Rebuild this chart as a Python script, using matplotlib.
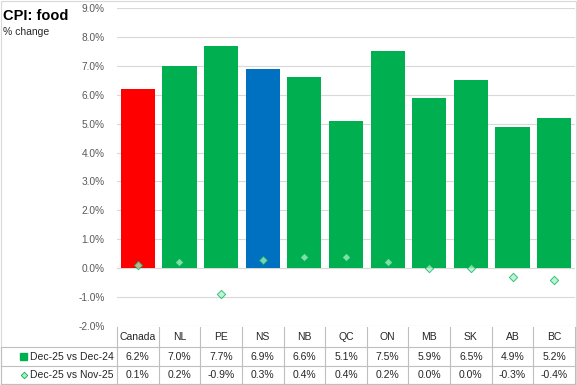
import matplotlib.pyplot as plt
from matplotlib.lines import Line2D
from matplotlib.patches import Rectangle

plt.rcParams['font.family'] = ['Liberation Sans', 'DejaVu Sans']

regions = ["Canada", "NL", "PE", "NS", "NB", "QC", "ON", "MB", "SK", "AB", "BC"]
yoy = [6.2, 7.0, 7.7, 6.9, 6.6, 5.1, 7.5, 5.9, 6.5, 4.9, 5.2]
mom = [0.1, 0.2, -0.9, 0.3, 0.4, 0.4, 0.2, 0.0, 0.0, -0.3, -0.4]
bar_colors = ["#FF0000", "#00B050", "#00B050", "#0070C0", "#00B050", "#00B050",
              "#00B050", "#00B050", "#00B050", "#00B050", "#00B050"]
yticks = [-2, -1, 0, 1, 2, 3, 4, 5, 6, 7, 8, 9]

W, H = 577, 385
fig = plt.figure(figsize=(W / 100, H / 100), dpi=100)

def fx(px):
    return px / W

def fy(py):
    return 1 - py / H

x0, x1, ytop, ybot = 117, 575, 8, 326
ax = fig.add_axes([fx(x0), fy(ybot), fx(x1) - fx(x0), fy(ytop) - fy(ybot)])
x = list(range(len(regions)))
ax.bar(x, yoy, width=0.82, color=bar_colors, zorder=2)
ax.scatter(x, mom, marker="D", s=18, facecolor="#A8F0C8", edgecolor="#00B050",
           linewidth=0.7, alpha=0.75, zorder=3)
ax.set_xlim(-0.5, len(regions) - 0.5)
ax.set_ylim(-2, 9)
ax.set_yticks(yticks)
ax.set_yticklabels(["%.1f%%" % t for t in yticks], fontsize=7.3, color="#595959")
ax.tick_params(axis="y", length=0, pad=9)
ax.set_xticks([])
ax.grid(axis="y", color="#D9D9D9", linewidth=0.8, zorder=0)
ax.axhline(0, color="#D9D9D9", linewidth=0.8, zorder=1)
for s in ax.spines.values():
    s.set_visible(False)

fig.text(fx(3), fy(16), "CPI: food", fontsize=10.5, fontweight="bold", va="center")
fig.text(fx(3), fy(32), "% change", fontsize=7.5, va="center", color="#262626")

# data table
grey = "#BFBFBF"
row_lines = [347, 366, 384]
for ry in row_lines:
    fig.add_artist(Line2D([fx(1), fx(x1)], [fy(ry), fy(ry)], color=grey, lw=0.8))
fig.add_artist(Line2D([fx(1), fx(1)], [fy(347), fy(384)], color=grey, lw=0.8))
col_w = (x1 - x0) / len(regions)
for i in range(len(regions) + 1):
    cx = x0 + i * col_w
    fig.add_artist(Line2D([fx(cx), fx(cx)], [fy(327), fy(384)], color=grey, lw=0.8))
for i, r in enumerate(regions):
    cx = x0 + (i + 0.5) * col_w
    fig.text(fx(cx), fy(337), r, fontsize=7.5, ha="center", va="center", color="#262626")
    fig.text(fx(cx), fy(356.5), "%.1f%%" % yoy[i], fontsize=7.5, ha="center", va="center", color="#262626")
    fig.text(fx(cx), fy(375), "%.1f%%" % mom[i], fontsize=7.5, ha="center", va="center", color="#262626")

fig.add_artist(Rectangle((fx(20), fy(360)), fx(7), fy(353) - fy(360), color="#00B050"))
fig.add_artist(Line2D([fx(23.5)], [fy(375)], marker="D", markersize=3.3, markerfacecolor="#A8F0C8",
                      markeredgecolor="#00B050", markeredgewidth=0.6))
fig.text(fx(30), fy(356.5), "Dec-25 vs Dec-24", fontsize=7.5, va="center", color="#262626")
fig.text(fx(30), fy(375), "Dec-25 vs Nov-25", fontsize=7.5, va="center", color="#262626")

# chart border
fig.add_artist(Rectangle((0.001, 0.002), 0.997, 0.996, fill=False, edgecolor="#D9D9D9", lw=0.8))

fig.savefig("out.png", dpi=100)
